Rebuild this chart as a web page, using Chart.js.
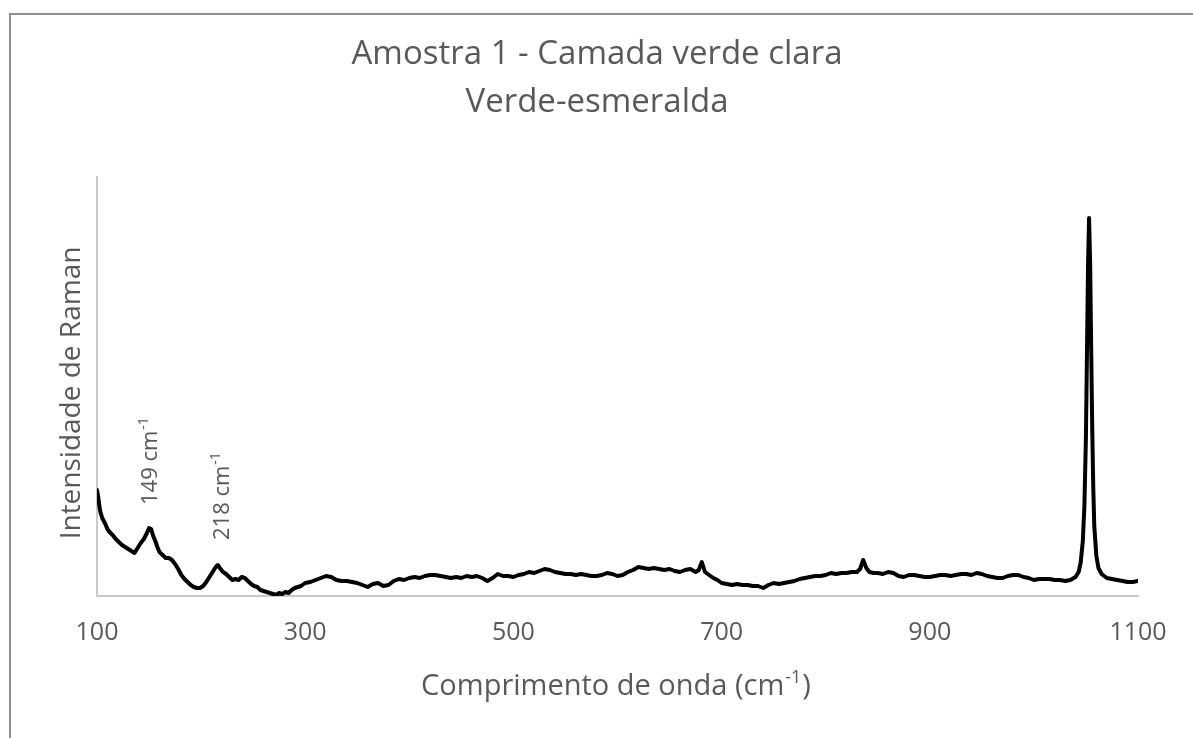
<!DOCTYPE html>
<html>
<head>
<meta charset="utf-8">
<script src="https://cdn.jsdelivr.net/npm/chart.js@4.4.1/dist/chart.umd.min.js"></script>
<style>
  html, body { margin: 0; padding: 0; background: #fff; }
  #wrap { width: 1193px; height: 738px; position: relative; }
</style>
</head>
<body>
<div id="wrap"><canvas id="raman"></canvas></div>
<script>
// Raman spectrum, wavenumber (cm-1) vs intensity (arbitrary units)
var wavenumbers = [
  100, 101, 103, 105, 108, 110, 112, 115, 118, 121, 124, 127, 130, 133, 136, 139, 142, 145, 148, 150,
  152, 154, 156, 158, 160, 163, 166, 169, 172, 175, 178, 181, 184, 187, 190, 193, 196, 199, 202, 205,
  208, 211, 214, 216, 218, 221, 224, 227, 230, 233, 236, 239, 242, 245, 248, 251, 254, 257, 260, 263,
  266, 269, 272, 275, 278, 281, 284, 287, 290, 293, 296, 300, 305, 310, 315, 320, 325, 330, 335, 340,
  345, 350, 355, 360, 365, 370, 375, 380, 385, 390, 395, 400, 405, 410, 415, 420, 425, 430, 435, 440,
  445, 450, 455, 460, 465, 470, 475, 480, 485, 490, 495, 500, 505, 510, 515, 520, 525, 530, 535, 540,
  545, 550, 555, 560, 565, 570, 575, 580, 585, 590, 595, 600, 605, 610, 615, 620, 625, 630, 635, 640,
  645, 650, 655, 660, 665, 670, 675, 678, 681, 684, 688, 692, 696, 700, 705, 710, 715, 720, 725, 730,
  735, 740, 745, 750, 755, 760, 765, 770, 775, 780, 785, 790, 795, 800, 805, 810, 815, 820, 825, 830,
  833, 836, 839, 842, 846, 850, 855, 860, 865, 870, 875, 880, 885, 890, 895, 900, 905, 910, 915, 920,
  925, 930, 935, 940, 945, 950, 955, 960, 965, 970, 975, 980, 985, 990, 995, 1000, 1005, 1010, 1015, 1020,
  1025, 1030, 1035, 1040, 1043, 1045, 1047, 1048.5, 1050, 1051, 1052, 1053, 1054, 1055, 1056, 1057, 1058, 1060, 1062, 1065,
  1070, 1075, 1080, 1085, 1090, 1095, 1100
];
var intensities = [
  106, 100, 85, 78, 72, 67, 64, 61, 57, 54, 51, 49, 47, 45, 43, 48, 53, 57, 63, 68,
  67, 60, 55, 49, 44, 41, 38, 38, 36, 32, 27, 21, 17, 14, 11, 9, 8, 8, 10, 14,
  19, 24, 29, 31, 28, 24, 22, 19, 16, 17, 16, 19, 18, 15, 12, 10, 9, 6, 5, 4,
  3, 2, 1, 3, 2, 4, 3, 6, 8, 9, 10, 13, 14, 16, 18, 20, 19, 16, 15, 15,
  14, 13, 11, 9, 12, 13, 10, 11, 15, 17, 16, 18, 19, 18, 20, 21, 21, 20, 19, 18,
  19, 18, 20, 19, 20, 18, 15, 18, 22, 20, 20, 19, 21, 22, 24, 23, 25, 27, 26, 24,
  23, 22, 22, 21, 22, 21, 20, 20, 21, 23, 22, 20, 21, 24, 26, 29, 28, 27, 28, 27,
  26, 27, 25, 24, 26, 27, 24, 26, 34, 24, 21, 18, 16, 13, 12, 11, 12, 11, 11, 10,
  10, 8, 11, 13, 12, 13, 14, 15, 17, 18, 19, 20, 20, 21, 23, 22, 23, 23, 24, 24,
  27, 36, 28, 24, 23, 23, 22, 24, 23, 20, 19, 21, 21, 20, 19, 19, 20, 21, 21, 20,
  21, 22, 22, 21, 23, 22, 20, 19, 18, 18, 20, 21, 21, 19, 18, 16, 17, 17, 17, 16,
  16, 15, 16, 19, 24, 34, 55, 90, 160, 245, 330, 378, 335, 250, 170, 110, 70, 40, 28, 22,
  18, 17, 16, 15, 14, 14, 15
];
var xTickValues = [100, 300, 500, 700, 900, 1100];
var peakLabels = [149, 218];

var titleLines = ['Amostra 1 - Camada verde clara', 'Verde-esmeralda'];
var xTitle = 'Comprimento de onda (cm';
var yTitle = 'Intensidade de Raman';

var FONT = '"Open Sans", sans-serif';
var GREY = '#595959';

var points = wavenumbers.map(function(w, i) { return { x: w, y: intensities[i] }; });

function nearestValue(w) {
  var best = 0;
  for (var i = 1; i < wavenumbers.length; i++) {
    if (Math.abs(wavenumbers[i] - w) < Math.abs(wavenumbers[best] - w)) best = i;
  }
  return intensities[best];
}

// text with a raised "-1" after it, starting at (x, y) on a middle baseline
function drawWithSup(ctx, text, x, y, size, supSize) {
  ctx.font = size + 'px ' + FONT;
  ctx.textAlign = 'left';
  ctx.textBaseline = 'middle';
  ctx.fillText(text, x, y);
  var w = ctx.measureText(text).width;
  ctx.font = supSize + 'px ' + FONT;
  ctx.fillText('-1', x + w + 1, y - size * 0.3);
  return w + 1 + ctx.measureText('-1').width;
}

var decorations = {
  id: 'decorations',
  beforeDraw: function(chart) {
    var ctx = chart.ctx;
    ctx.save();
    ctx.fillStyle = '#fff';
    ctx.fillRect(0, 0, chart.width, chart.height);
    // outer frame (top and left edges only)
    ctx.strokeStyle = '#8f8f8f';
    ctx.lineWidth = 2;
    ctx.beginPath();
    ctx.moveTo(10, chart.height);
    ctx.lineTo(10, 14);
    ctx.lineTo(chart.width, 14);
    ctx.stroke();
    ctx.restore();
  },
  afterDraw: function(chart) {
    var ctx = chart.ctx;
    var xs = chart.scales.x;
    var ys = chart.scales.y;
    ctx.save();
    ctx.fillStyle = GREY;

    // chart title
    ctx.font = '33px ' + FONT;
    ctx.textAlign = 'center';
    ctx.textBaseline = 'middle';
    ctx.fillText(titleLines[0], 597, 55);
    ctx.fillText(titleLines[1], 597, 103);

    // x axis title with superscript
    ctx.font = '29px ' + FONT;
    var mainW = ctx.measureText(xTitle).width;
    ctx.font = '18px ' + FONT;
    var supW = ctx.measureText('-1').width;
    ctx.font = '29px ' + FONT;
    var closeW = ctx.measureText(')').width;
    var startX = 616 - (mainW + supW + closeW + 2) / 2;
    var used = drawWithSup(ctx, xTitle, startX, 687, 29, 18);
    ctx.font = '29px ' + FONT;
    ctx.fillText(')', startX + used + 1, 687);

    // y axis title, rotated
    ctx.save();
    ctx.translate(72, 393);
    ctx.rotate(-Math.PI / 2);
    ctx.font = '28px ' + FONT;
    ctx.textAlign = 'center';
    ctx.textBaseline = 'middle';
    ctx.fillText(yTitle, 0, 0);
    ctx.restore();

    // peak labels above the marked bands
    peakLabels.forEach(function(w) {
      var px = xs.getPixelForValue(w) + 3;
      var py = ys.getPixelForValue(nearestValue(w)) - 28;
      ctx.save();
      ctx.translate(px, py);
      ctx.rotate(-Math.PI / 2);
      drawWithSup(ctx, w + ' cm', 0, 0, 22, 14);
      ctx.restore();
    });
    ctx.restore();
  }
};

new Chart(document.getElementById('raman'), {
  type: 'line',
  data: {
    datasets: [{
      data: points,
      borderColor: '#000',
      borderWidth: 4,
      borderJoinStyle: 'round',
      borderCapStyle: 'round',
      pointRadius: 0,
      tension: 0,
      fill: false
    }]
  },
  options: {
    responsive: true,
    maintainAspectRatio: false,
    animation: false,
    parsing: false,
    layout: { padding: { top: 177, left: 97, right: 55, bottom: 0 } },
    plugins: {
      legend: { display: false },
      tooltip: { enabled: false },
      title: { display: false }
    },
    scales: {
      x: {
        type: 'linear',
        min: 100,
        max: 1100,
        grid: { display: false, drawTicks: false },
        border: { display: true, color: '#c9c9c9', width: 2 },
        afterBuildTicks: function(scale) {
          scale.ticks = xTickValues.map(function(v) { return { value: v }; });
        },
        afterFit: function(scale) { scale.height = 142; },
        ticks: {
          color: GREY,
          font: { family: '"Open Sans"', size: 25 },
          padding: 22,
          maxRotation: 0,
          autoSkip: false,
          callback: function(value) { return String(value); }
        }
      },
      y: {
        min: 0,
        max: 419,
        grid: { display: false, drawTicks: false },
        border: { display: true, color: '#c9c9c9', width: 2 },
        ticks: { display: false },
        afterFit: function(scale) { scale.width = 0; }
      }
    }
  },
  plugins: [decorations]
});
</script>
</body>
</html>
